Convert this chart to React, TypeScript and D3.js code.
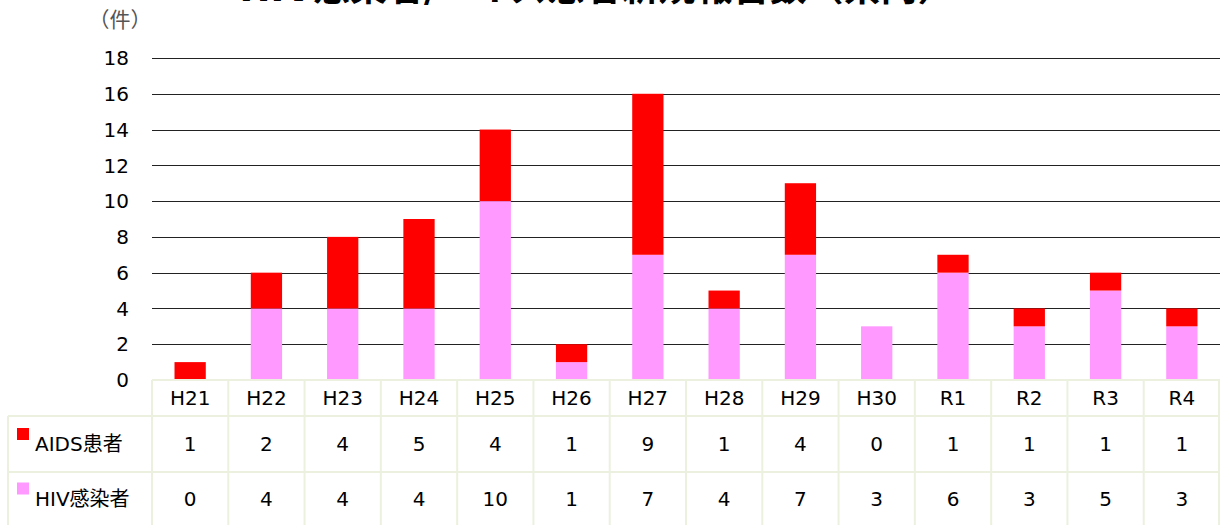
import React, { useEffect, useRef } from "react"
import * as d3 from "d3"

const years = ["H21", "H22", "H23", "H24", "H25", "H26", "H27", "H28", "H29", "H30", "R1", "R2", "R3", "R4"]
const aidsCases = [1, 2, 4, 5, 4, 1, 9, 1, 4, 0, 1, 1, 1, 1]
const hivCases = [0, 4, 4, 4, 10, 1, 7, 4, 7, 3, 6, 3, 5, 3]
const yTicks = [0, 2, 4, 6, 8, 10, 12, 14, 16, 18]
const seriesNames = ["AIDS患者", "HIV感染者"]
const title = "HIV感染者/エイズ患者新規報告数（県内）"

const RED = "#ff0000"
const PINK = "#ff99ff"
const FONT = "'DejaVu Sans', 'Noto Sans CJK JP', sans-serif"

function App() {
  const svgRef = useRef<SVGSVGElement>(null)

  useEffect(() => {
    const svg = d3.select(svgRef.current)
    svg.selectAll("*").remove()
    const WIDTH = 1220
    const HEIGHT = 525
    svg.attr("width", WIDTH).attr("height", HEIGHT)

    const left = 152
    const right = 1220
    const base = 380
    const top = 58
    const tableLeft = 8
    const rowY = [380, 416, 472, 525]

    const x = d3.scaleBand().domain(years).range([left, right]).paddingInner(0).paddingOuter(0)
    const y = d3.scaleLinear().domain([0, 18]).range([base, top])
    const barW = x.bandwidth() * 0.41

    // title - the source image crops it at the top edge
    svg.append("text")
      .attr("x", 597).attr("y", 1)
      .attr("text-anchor", "middle")
      .attr("font-family", FONT)
      .attr("font-size", 37)
      .attr("font-weight", "bold")
      .text(title)

    // unit
    svg.append("text")
      .attr("x", 120).attr("y", 27)
      .attr("text-anchor", "middle")
      .attr("font-family", FONT)
      .attr("font-size", 21)
      .attr("fill", "#555")
      .text("（件）")

    // gridlines + y labels
    svg.append("g").selectAll("line")
      .data(yTicks.filter(d => d > 0))
      .enter().append("line")
        .attr("x1", left).attr("x2", right)
        .attr("y1", d => Math.round(y(d)) + 0.5)
        .attr("y2", d => Math.round(y(d)) + 0.5)
        .attr("stroke", "#222")
        .attr("stroke-width", 1)

    svg.append("g").selectAll("text")
      .data(yTicks)
      .enter().append("text")
        .attr("x", 129)
        .attr("y", d => y(d))
        .attr("dy", "0.36em")
        .attr("text-anchor", "end")
        .attr("font-family", FONT)
        .attr("font-size", 20)
        .text(d => d)

    // stacked bars
    const rows = years.map((yr, i) => ({ year: yr, hiv: hivCases[i], aids: aidsCases[i] }))
    const stack = d3.stack<any>().keys(["hiv", "aids"])(rows)
    const colors: Record<string, string> = { hiv: PINK, aids: RED }

    svg.append("g").selectAll("g")
      .data(stack)
      .enter().append("g")
        .attr("fill", d => colors[d.key])
      .selectAll("rect")
      .data(d => d)
      .enter().append("rect")
        .attr("x", d => x(d.data.year)! + (x.bandwidth() - barW) / 2)
        .attr("width", barW)
        .attr("y", d => y(d[1]))
        .attr("height", d => y(d[0]) - y(d[1]))

    // data table
    const grid = svg.append("g")
      .attr("stroke", "#ebf1de")
      .attr("stroke-width", 2)
      .attr("fill", "none")

    // horizontal lines
    grid.append("line").attr("x1", left).attr("x2", right).attr("y1", rowY[0]).attr("y2", rowY[0])
    grid.append("line").attr("x1", tableLeft).attr("x2", right).attr("y1", rowY[1]).attr("y2", rowY[1])
    grid.append("line").attr("x1", tableLeft).attr("x2", right).attr("y1", rowY[2]).attr("y2", rowY[2])
    // vertical lines
    grid.append("line").attr("x1", tableLeft).attr("x2", tableLeft).attr("y1", rowY[1]).attr("y2", rowY[3])
    grid.selectAll(".col")
      .data(years)
      .enter().append("line")
        .attr("class", "col")
        .attr("x1", d => x(d)!).attr("x2", d => x(d)!)
        .attr("y1", rowY[0]).attr("y2", rowY[3])
    grid.append("line").attr("x1", right - 1).attr("x2", right - 1).attr("y1", rowY[0]).attr("y2", rowY[3])

    // header row
    svg.append("g").selectAll("text")
      .data(years)
      .enter().append("text")
        .attr("x", d => x(d)! + x.bandwidth() / 2)
        .attr("y", (rowY[0] + rowY[1]) / 2)
        .attr("dy", "0.36em")
        .attr("text-anchor", "middle")
        .attr("font-family", FONT)
        .attr("font-size", 20)
        .text(d => d)

    // value rows
    const tableSeries = [
      { name: seriesNames[0], values: aidsCases, color: RED },
      { name: seriesNames[1], values: hivCases, color: PINK },
    ]
    tableSeries.forEach((s, r) => {
      const cy = (rowY[r + 1] + rowY[r + 2]) / 2
      svg.append("rect")
        .attr("x", 17).attr("y", cy - 16)
        .attr("width", 12).attr("height", 12)
        .attr("fill", s.color)
      svg.append("text")
        .attr("x", 35).attr("y", cy)
        .attr("dy", "0.36em")
        .attr("font-family", FONT)
        .attr("font-size", 20)
        .text(s.name)
      svg.append("g").selectAll("text")
        .data(s.values)
        .enter().append("text")
          .attr("x", (d, i) => x(years[i])! + x.bandwidth() / 2)
          .attr("y", cy)
          .attr("dy", "0.36em")
          .attr("text-anchor", "middle")
          .attr("font-family", FONT)
          .attr("font-size", 20)
          .text(d => d)
    })
  }, [])

  return (
    <svg ref={svgRef} style={{ position: "absolute", left: 0, top: 0, background: "#fff" }}></svg>
  )
}

export default App
